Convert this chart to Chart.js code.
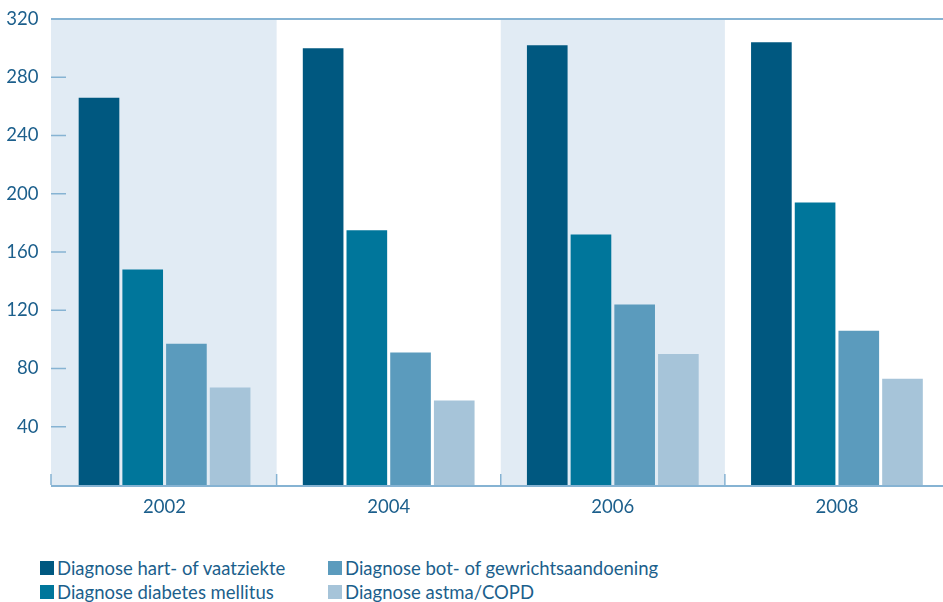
<!DOCTYPE html>
<html>
<head>
<meta charset="utf-8">
<script src="https://cdn.jsdelivr.net/npm/chart.js@4/dist/chart.umd.min.js"></script>
<style>
  body { margin: 0; overflow: hidden; background: #fff; font-family: Lato, sans-serif; }
  #wrap { position: relative; width: 943px; height: 602px; overflow: hidden; }
  #myChart { position: absolute; left: 0; top: 0; }
  .legend { position: absolute; color: #1c5f8c; font-size: 18.5px; line-height: 24px; }
  .legend div { position: relative; padding-left: 17px; white-space: nowrap; }
  .legend span { position: absolute; left: 0; top: 5px; width: 14px; height: 14px; }
</style>
</head>
<body>
<div id="wrap">
  <canvas id="myChart" width="950" height="540"></canvas>
  <div class="legend" id="leg1" style="left:40px; top:556px;"></div>
  <div class="legend" id="leg2" style="left:328px; top:556px;"></div>
</div>
<script>
'use strict'

let years = ['2002', '2004', '2006', '2008'];
let seriesNames = [
  'Diagnose hart- of vaatziekte',
  'Diagnose diabetes mellitus',
  'Diagnose bot- of gewrichtsaandoening',
  'Diagnose astma/COPD'
];
let hartVaat = [266, 300, 302, 304];
let diabetes = [148, 175, 172, 194];
let botGewricht = [97, 91, 124, 106];
let astmaCopd = [67, 58, 90, 73];
let yTicks = [40, 80, 120, 160, 200, 240, 280, 320];

let colors = ['#005880', '#00769b', '#5b9bbd', '#a6c4d9'];
let textColor = '#1c5f8c';
let lineColor = '#86b3d3';

// legend as html, two columns
let legCols = [document.getElementById('leg1'), document.getElementById('leg2')];
for (let i = 0; i < seriesNames.length; i++) {
  let row = document.createElement('div');
  row.innerHTML = '<span style="background:' + colors[i] + '"></span>' + seriesNames[i];
  legCols[Math.floor(i / 2)].appendChild(row);
}

// shaded columns, tick marks and axis lines
const frame = {
  id: 'frame',
  beforeDatasetsDraw(chart) {
    let ctx = chart.ctx;
    let a = chart.chartArea;
    let x = chart.scales.x;
    let w = (a.right - a.left) / years.length;
    ctx.save();
    ctx.fillStyle = '#e1ebf4';
    for (let i = 0; i < years.length; i += 2) {
      let left = x.getPixelForValue(i) - w / 2;
      if (i === 0) left = 51;
      ctx.fillRect(left, a.top, x.getPixelForValue(i) + w / 2 - left, a.bottom - a.top);
    }
    ctx.restore();
  },
  afterDatasetsDraw(chart) {
    let ctx = chart.ctx;
    let a = chart.chartArea;
    let x = chart.scales.x;
    let y = chart.scales.y;
    let w = (a.right - a.left) / years.length;
    ctx.save();
    ctx.strokeStyle = lineColor;
    ctx.lineWidth = 2;
    // top line
    ctx.beginPath();
    ctx.moveTo(51, y.getPixelForValue(320));
    ctx.lineTo(chart.width, y.getPixelForValue(320));
    ctx.stroke();
    // bottom axis
    ctx.beginPath();
    ctx.moveTo(51, a.bottom + 1);
    ctx.lineTo(chart.width, a.bottom + 1);
    ctx.stroke();
    // y tick marks
    ctx.lineWidth = 1.5;
    yTicks.forEach(v => {
      if (v === 320) return;
      let py = y.getPixelForValue(v);
      ctx.beginPath();
      ctx.moveTo(51, py);
      ctx.lineTo(66, py);
      ctx.stroke();
    });
    // x boundary ticks
    for (let i = 0; i < years.length; i++) {
      let bx = i === 0 ? 51 : x.getPixelForValue(i) - w / 2;
      ctx.beginPath();
      ctx.moveTo(bx, a.bottom);
      ctx.lineTo(bx, a.bottom - 11);
      ctx.stroke();
    }
    ctx.restore();
  }
};

const data = {
  labels: years,
  datasets: [
    { label: seriesNames[0], data: hartVaat, backgroundColor: colors[0] },
    { label: seriesNames[1], data: diabetes, backgroundColor: colors[1] },
    { label: seriesNames[2], data: botGewricht, backgroundColor: colors[2] },
    { label: seriesNames[3], data: astmaCopd, backgroundColor: colors[3] }
  ]
};

const config = {
  type: 'bar',
  data: data,
  options: {
    responsive: false,
    animation: false,
    categoryPercentage: 0.78,
    barPercentage: 0.93,
    layout: { padding: { top: 19, left: 0, right: 1, bottom: 0 } },
    plugins: { legend: { display: false }, tooltip: { enabled: false } },
    scales: {
      x: {
        grid: { display: false },
        border: { display: false },
        ticks: { color: textColor, font: { family: 'Lato', size: 18.5 }, padding: 3 },
        afterFit: function (scale) { scale.height = 55; }
      },
      y: {
        min: 0,
        max: 320,
        afterBuildTicks: function (scale) { scale.ticks = yTicks.map(v => ({ value: v })); },
        grid: { display: false, drawTicks: false },
        border: { display: false },
        ticks: { color: textColor, font: { family: 'Lato', size: 18.5 }, padding: 14 },
        afterFit: function (scale) {
          scale.width = 52.5;
          scale.paddingTop = 0;
          scale.paddingBottom = 0;
        }
      }
    }
  },
  plugins: [frame]
};

var myChart = new Chart(document.getElementById('myChart'), config);
</script>
</body>
</html>
